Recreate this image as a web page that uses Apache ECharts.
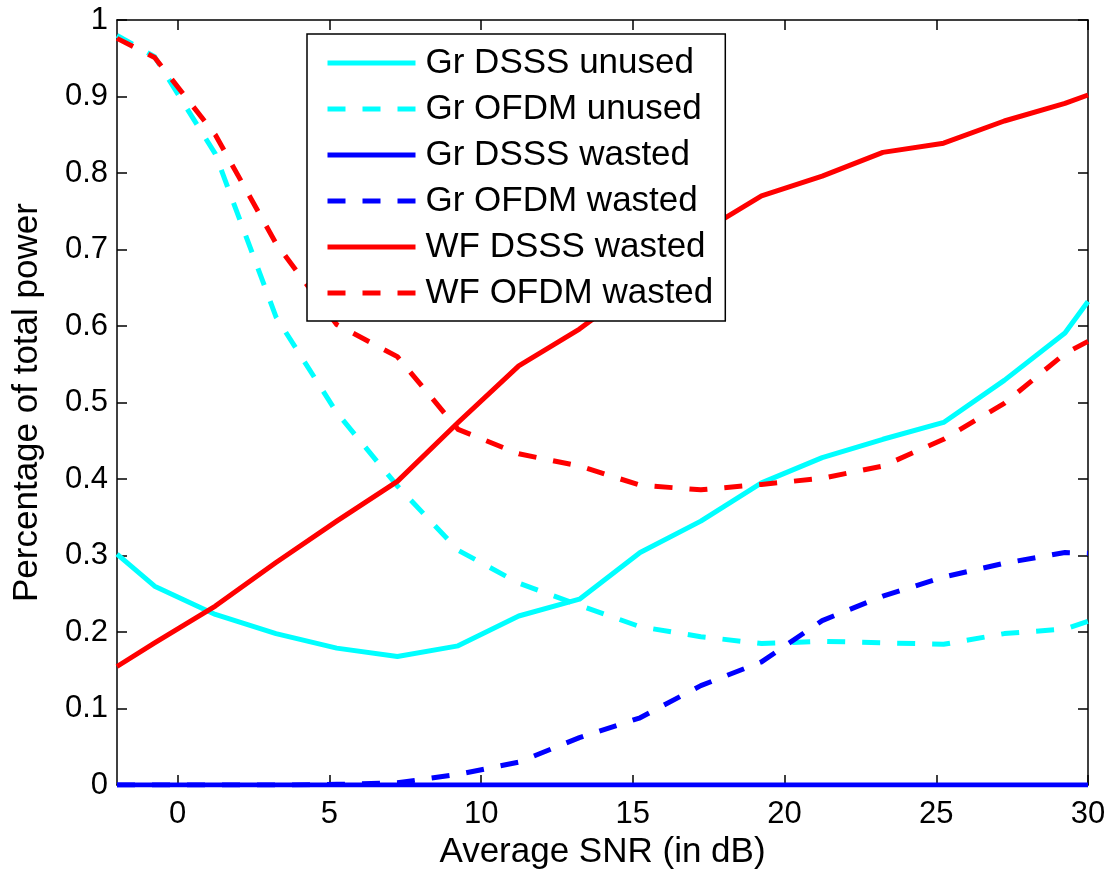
<!DOCTYPE html>
<html>
<head>
<meta charset="utf-8">
<script src="https://cdn.jsdelivr.net/npm/echarts@6/dist/echarts.min.js"></script>
<style>
  html, body { margin: 0; padding: 0; background: #fff; }
  #chart { width: 1112px; height: 875px; }
</style>
</head>
<body>
<div id="chart"></div>
<script>
// Average SNR (dB) at which each curve is sampled
const snr = [-2, -0.76, 1.24, 3.24, 5.24, 7.24, 9.24, 11.24, 13.24, 15.24, 17.24, 19.24, 21.24, 23.24, 25.24, 27.24, 29.24, 30];

// Fraction of total power per scheme
const grDsssUnused = [0.302, 0.26, 0.223, 0.198, 0.179, 0.168, 0.182, 0.221, 0.243, 0.304, 0.345, 0.395, 0.428, 0.452, 0.474, 0.529, 0.591, 0.632];
const grOfdmUnused = [0.98, 0.952, 0.825, 0.612, 0.487, 0.391, 0.307, 0.264, 0.235, 0.207, 0.194, 0.185, 0.188, 0.186, 0.184, 0.198, 0.204, 0.214];
const grDsssWasted = [0, 0, 0, 0, 0, 0, 0, 0, 0, 0, 0, 0, 0, 0, 0, 0, 0, 0];
const grOfdmWasted = [0, 0, 0, 0, 0.001, 0.003, 0.014, 0.03, 0.062, 0.088, 0.13, 0.161, 0.215, 0.247, 0.272, 0.29, 0.304, 0.303];
const wfDsssWasted = [0.155, 0.186, 0.234, 0.291, 0.345, 0.397, 0.474, 0.548, 0.596, 0.655, 0.722, 0.77, 0.796, 0.827, 0.839, 0.868, 0.891, 0.902];
const wfOfdmWasted = [0.976, 0.951, 0.85, 0.708, 0.602, 0.56, 0.465, 0.433, 0.417, 0.392, 0.386, 0.393, 0.401, 0.417, 0.452, 0.499, 0.564, 0.58];

const seriesNames = ['Gr DSSS unused', 'Gr OFDM unused', 'Gr DSSS wasted', 'Gr OFDM wasted', 'WF DSSS wasted', 'WF OFDM wasted'];

// Tick labels
const xTicks = [0, 5, 10, 15, 20, 25, 30];
const yTickLabels = ['0', '0.1', '0.2', '0.3', '0.4', '0.5', '0.6', '0.7', '0.8', '0.9', '1'];

const FONT = 'Liberation Sans, Arial, Helvetica, sans-serif';
const LW = 5;
const DASH = [18, 17];

function pairs(arr) {
  return snr.map((x, i) => [x, arr[i]]);
}

function lineSeries(name, arr, color, dashed) {
  return {
    name: name,
    type: 'line',
    data: pairs(arr),
    symbol: 'none',
    showSymbol: false,
    clip: true,
    lineStyle: { color: color, width: LW, type: dashed ? DASH : 'solid', cap: 'butt', join: 'round' },
    itemStyle: { color: color },
    emphasis: { disabled: true },
    silent: true
  };
}

const chart = echarts.init(document.getElementById('chart'), null, { renderer: 'canvas' });

const frameLine = { show: true, onZero: false, lineStyle: { color: '#000', width: 1.5 } };

chart.setOption({
  animation: false,
  backgroundColor: '#fff',
  textStyle: { fontFamily: FONT },
  grid: { left: 117, right: 24, top: 20, bottom: 89, containLabel: false },
  legend: {
    orient: 'vertical',
    left: 307,
    top: 34,
    data: seriesNames,
    itemWidth: 88,
    itemHeight: 20,
    itemGap: 10,
    padding: [11, 12, 10, 18],
    backgroundColor: '#fff',
    borderColor: '#000',
    borderWidth: 1.5,
    borderRadius: 0,
    // line sample only, no marker in the middle
    itemStyle: { color: 'rgba(0,0,0,0)', borderWidth: 0, opacity: 0 },
    lineStyle: { width: LW },
    textStyle: { fontFamily: FONT, fontSize: 35, color: '#000', lineHeight: 36, padding: [0, 0, 0, 5] },
    selectedMode: false
  },
  xAxis: [
    {
      type: 'value', position: 'bottom', min: -2, max: 30,
      name: 'Average SNR (in dB)', nameLocation: 'middle', nameGap: 44,
      nameTextStyle: { fontFamily: FONT, fontSize: 35, color: '#000' },
      axisLine: frameLine,
      axisTick: { show: true, inside: true, length: 10, customValues: xTicks, lineStyle: { color: '#000', width: 1.5 } },
      axisLabel: { show: true, customValues: xTicks, margin: 14, fontFamily: FONT, fontSize: 31, color: '#000' },
      splitLine: { show: false }
    },
    {
      type: 'value', position: 'top', min: -2, max: 30,
      axisLine: frameLine,
      axisTick: { show: true, inside: true, length: 10, customValues: xTicks, lineStyle: { color: '#000', width: 1.5 } },
      axisLabel: { show: false },
      splitLine: { show: false }
    }
  ],
  yAxis: [
    {
      type: 'value', position: 'left', min: 0, max: 1, interval: 0.1,
      name: 'Percentage of total power', nameLocation: 'middle', nameGap: 72,
      nameTextStyle: { fontFamily: FONT, fontSize: 35, color: '#000' },
      axisLine: frameLine,
      axisTick: { show: true, inside: true, length: 10, lineStyle: { color: '#000', width: 1.5 } },
      axisLabel: {
        show: true, margin: 9, fontFamily: FONT, fontSize: 31, color: '#000',
        formatter: v => yTickLabels[Math.round(v * 10)]
      },
      splitLine: { show: false }
    },
    {
      type: 'value', position: 'right', min: 0, max: 1, interval: 0.1,
      axisLine: frameLine,
      axisTick: { show: true, inside: true, length: 10, lineStyle: { color: '#000', width: 1.5 } },
      axisLabel: { show: false },
      splitLine: { show: false }
    }
  ],
  series: [
    lineSeries(seriesNames[0], grDsssUnused, '#00ffff', false),
    lineSeries(seriesNames[1], grOfdmUnused, '#00ffff', true),
    lineSeries(seriesNames[2], grDsssWasted, '#0000ff', false),
    lineSeries(seriesNames[3], grOfdmWasted, '#0000ff', true),
    lineSeries(seriesNames[4], wfDsssWasted, '#ff0000', false),
    lineSeries(seriesNames[5], wfOfdmWasted, '#ff0000', true)
  ]
});
</script>
</body>
</html>
